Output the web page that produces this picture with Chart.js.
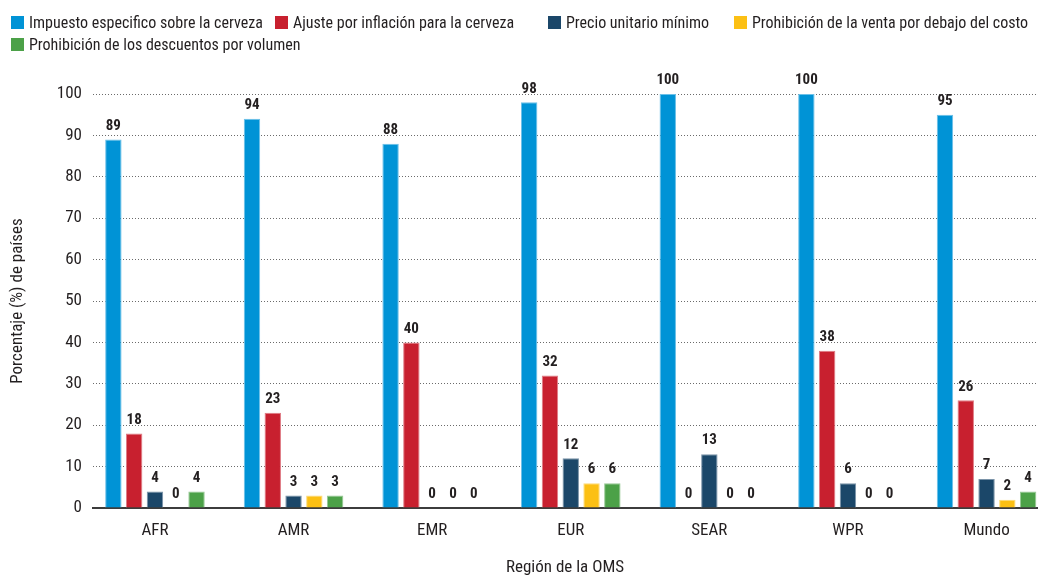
<!DOCTYPE html>
<html>
<head>
<meta charset="utf-8">
<script src="https://cdn.jsdelivr.net/npm/chart.js@4.4.0/dist/chart.umd.min.js"></script>
<style>
    html, body { margin: 0; padding: 0; background: #fff; }
    #wrap { position: relative; width: 1040px; height: 578px; }
    #legend {
        position: absolute; left: 0; top: 0; width: 1040px; height: 60px;
        font: 16px "Roboto Condensed", "Open Sans", sans-serif;
        font-stretch: condensed;
        color: #231f20;
    }
    .item { position: absolute; display: flex; align-items: center; height: 20px; white-space: nowrap; }
    .box { width: 13px; height: 13px; margin-right: 5px; }
</style>
</head>
<body>
<div id="wrap">
    <canvas id="chart"></canvas>
    <div id="legend"></div>
</div>
<script>
// Data
const categories = ['AFR', 'AMR', 'EMR', 'EUR', 'SEAR', 'WPR', 'Mundo'];
const impuestoEspecifico = [89, 94, 88, 98, 100, 100, 95];
const ajusteInflacion = [18, 23, 40, 32, 0, 38, 26];
const precioMinimo = [4, 3, 0, 12, 13, 6, 7];
const ventaBajoCosto = [0, 3, 0, 6, 0, 0, 2];
const descuentosVolumen = [4, 3, 0, 6, 0, 0, 4];
const yTicks = [0, 10, 20, 30, 40, 50, 60, 70, 80, 90, 100];

const FONT = '"Roboto Condensed", "Open Sans", sans-serif';
const TEXT = '#231f20';

const series = [
    { label: 'Impuesto especifico sobre la cerveza', data: impuestoEspecifico, color: '#0093d6', edge: '#6cc0e8' },
    { label: 'Ajuste por inflación para la cerveza', data: ajusteInflacion, color: '#c8202f', edge: '#e07c85' },
    { label: 'Precio unitario mínimo', data: precioMinimo, color: '#1b4769', edge: '#7a93a8' },
    { label: 'Prohibición de la venta por debajo del costo', data: ventaBajoCosto, color: '#fcc014', edge: '#fdda78' },
    { label: 'Prohibición de los descuentos por volumen', data: descuentosVolumen, color: '#4ca148', edge: '#96c894' }
];

// legend item placement (left, top) like the original layout
const legendSlots = [[11, 12], [275, 12], [548, 12], [734, 12], [11, 34]];

// value labels above each bar
const barLabels = {
    id: 'barLabels',
    afterDatasetsDraw(chart) {
        const ctx = chart.ctx;
        ctx.save();
        ctx.font = 'bold 15px ' + FONT;
        ctx.fillStyle = TEXT;
        ctx.textAlign = 'center';
        ctx.textBaseline = 'bottom';
        chart.data.datasets.forEach((ds, i) => {
            chart.getDatasetMeta(i).data.forEach((bar, j) => {
                ctx.fillText(ds.data[j].y, bar.x, bar.y - 6);
            });
        });
        ctx.restore();
    }
};

document.addEventListener('DOMContentLoaded', function() {
    const legend = document.getElementById('legend');
    series.forEach((s, i) => {
        const item = document.createElement('div');
        item.className = 'item';
        item.style.left = legendSlots[i][0] + 'px';
        item.style.top = legendSlots[i][1] + 'px';
        item.innerHTML = '<span class="box" style="background:' + s.color + '"></span>' + s.label;
        legend.appendChild(item);
    });

    const ctx = document.getElementById('chart').getContext('2d');
    new Chart(ctx, {
        type: 'bar',
        data: {
            datasets: series.map(s => ({
                label: s.label,
                data: s.data.map((v, i) => ({ x: i, y: v })),
                backgroundColor: s.color,
                borderColor: s.edge,
                borderWidth: 1,
                categoryPercentage: 0.75,
                barPercentage: 0.79
            }))
        },
        plugins: [barLabels],
        options: {
            responsive: true,
            maintainAspectRatio: false,
            animation: false,
            layout: {
                padding: { top: 94, right: 3, left: 0, bottom: 0 }
            },
            plugins: {
                legend: { display: false },
                tooltip: { enabled: false }
            },
            scales: {
                x: {
                    type: 'linear',
                    offset: false,
                    min: -0.447,
                    max: 6.364,
                    afterBuildTicks: function(scale) {
                        scale.ticks = categories.map((c, i) => ({ value: i }));
                    },
                    afterFit: function(scale) {
                        scale.height = 70;
                    },
                    grid: {
                        display: true,
                        drawOnChartArea: false,
                        drawTicks: false,
                        color: 'rgba(0, 0, 0, 0)'
                    },
                    border: {
                        display: true,
                        color: '#3c3c3c',
                        width: 2
                    },
                    ticks: {
                        padding: 13,
                        color: TEXT,
                        autoSkip: false,
                        maxRotation: 0,
                        font: { family: FONT, size: 17 },
                        callback: function(value) {
                            return categories[value];
                        }
                    },
                    title: {
                        display: true,
                        text: 'Región de la OMS',
                        color: TEXT,
                        padding: 0,
                        font: { family: FONT, size: 17 }
                    }
                },
                y: {
                    min: 0,
                    max: 100,
                    afterBuildTicks: function(scale) {
                        scale.ticks = yTicks.map(v => ({ value: v }));
                    },
                    afterFit: function(scale) {
                        scale.width = 93;
                    },
                    grid: {
                        color: '#6b6b6b',
                        lineWidth: 1,
                        drawTicks: false
                    },
                    border: {
                        display: false,
                        dash: [1, 2]
                    },
                    ticks: {
                        padding: 11,
                        color: TEXT,
                        font: { family: FONT, size: 17 }
                    },
                    title: {
                        display: true,
                        text: 'Porcentaje (%) de países',
                        color: TEXT,
                        padding: { top: 8, bottom: 0 },
                        font: { family: FONT, size: 17 }
                    }
                }
            }
        }
    });
});
</script>
</body>
</html>
